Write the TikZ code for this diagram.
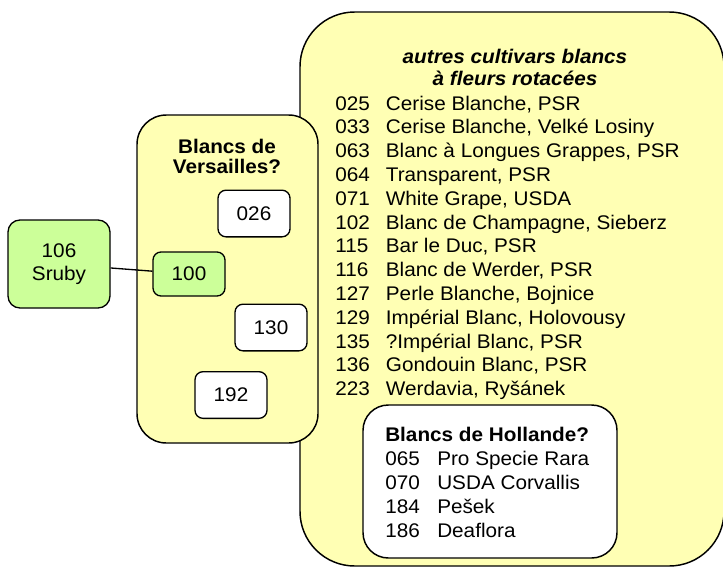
\documentclass[tikz,border=0pt]{standalone}
\usepackage{fontspec}
\setmainfont{Liberation Sans}[FakeStretch=1.05]
\usepackage{array}
\definecolor{cream}{RGB}{255,255,180}
\definecolor{leaf}{RGB}{204,255,153}
\tikzset{
  panel/.style={draw,fill=cream,line width=1.1pt},
  tag/.style={draw,fill=white,line width=1pt,rounded corners=6pt,
    minimum width=54pt,minimum height=35pt,font=\fontsize{14.8}{17}\selectfont},
}

\begin{document}
\begin{tikzpicture}[x=0.75pt,y=-0.75pt]
  \useasboundingbox (0,0) rectangle (723,567);
  % big panel, cut by the right edge
  \node (autres) at (512,289) [panel,rounded corners=41pt,minimum width=318pt,minimum height=415.5pt] {};
  \node (autrestitle) at (515,67) [align=center,font=\fontsize{14.8}{16.5}\selectfont\bfseries\itshape] {autres cultivars blancs\\à fleurs rotacées};
  \node (liste) at (335,110) [anchor=base west,inner sep=0pt,font=\fontsize{14.8}{17.85}\selectfont]
    {\begin{tabular}[t]{@{}p{38pt}@{}l@{}}
      025 & Cerise Blanche, PSR\\
      033 & Cerise Blanche, Velké Losiny\\
      063 & Blanc à Longues Grappes, PSR\\
      064 & Transparent, PSR\\
      071 & White Grape, USDA\\
      102 & Blanc de Champagne, Sieberz\\
      115 & Bar le Duc, PSR\\
      116 & Blanc de Werder, PSR\\
      127 & Perle Blanche, Bojnice\\
      129 & Impérial Blanc, Holovousy\\
      135 & ?Impérial Blanc, PSR\\
      136 & Gondouin Blanc, PSR\\
      223 & Werdavia, Ryšánek
    \end{tabular}};
  \node (hollande) at (490,481.5) [draw,fill=white,line width=1.1pt,rounded corners=19pt,minimum width=190.5pt,minimum height=114.75pt] {};
  \node (hlist) at (385,441) [anchor=base west,inner sep=0pt,font=\fontsize{14.8}{18}\selectfont]
    {\begin{tabular}[t]{@{}p{39pt}@{}l@{}}
      \multicolumn{2}{@{}l@{}}{\bfseries Blancs de Hollande?}\\
      065 & Pro Specie Rara\\
      070 & USDA Corvallis\\
      184 & Pešek\\
      186 & Deaflora
    \end{tabular}};
  % Versailles panel, over the big one
  \node (versailles) at (227.5,279) [panel,rounded corners=22pt,minimum width=135.75pt,minimum height=246pt] {};
  \node (vtitle) at (227,173) [anchor=base,align=center,font=\fontsize{14.8}{15}\selectfont\bfseries] {Blancs de\\Versailles?};
  \node (v026) at (254,213.5) [tag] {026};
  \node (v100) at (189,274) [tag,fill=leaf,minimum height=33pt] {100};
  \node (v130) at (271,327.5) [tag] {130};
  \node (v192) at (231,395) [tag] {192};
  \node (sruby) at (59,264) [tag,fill=leaf,rounded corners=9pt,minimum width=76.5pt,minimum height=66pt,align=center] {106\\Sruby};
  \draw[line width=1pt] (sruby) to (v100);
\end{tikzpicture}
\end{document}
